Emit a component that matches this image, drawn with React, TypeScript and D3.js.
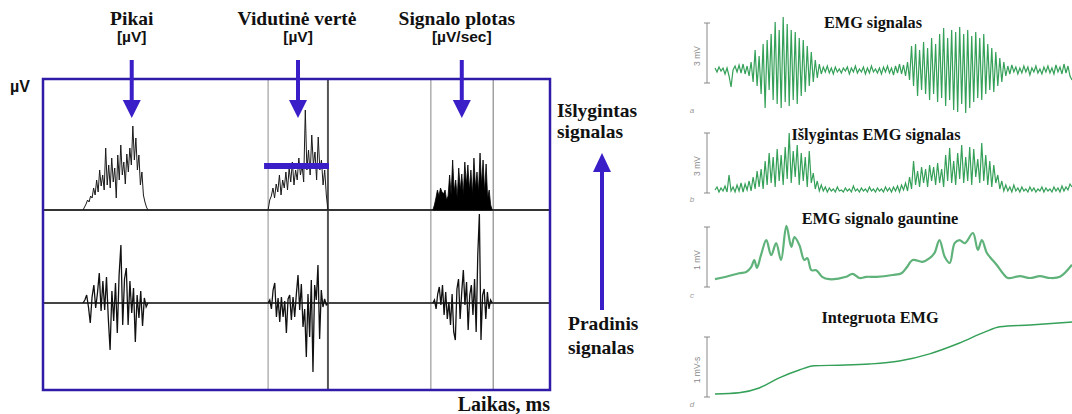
import React from 'react';
import * as d3 from 'd3';

// ---------- Left figure: rectified vs raw EMG bursts (time in ms, amplitude in µV) ----------
const burstWindows: [number, number][] = [[79, 207], [444, 562], [769, 886]];
const markerTimes = [444, 562, 765, 888];
const markerShade = ['#a0a0a0', '#555555', '#9a9a9a', '#8a8a8a'];

const rectBurst1 = [0, 3, 6, 10, 8, 14, 12, 22, 15, 30, 18, 40, 24, 35, 20, 62, 25, 45, 22, 52, 28, 42, 12, 55, 30, 65, 35, 48, 26, 56, 38, 62, 45, 84, 50, 72, 40, 55, 25, 38, 15, 8, 3, 0];
const rectBurst2 = [0, 10, 14, 22, 12, 26, 18, 35, 15, 30, 22, 38, 20, 42, 28, 48, 25, 40, 30, 52, 35, 45, 28, 100, 40, 60, 35, 75, 45, 58, 30, 73, 40, 50, 25, 40, 15, 0];
const rectBurst3 = [0, 5, 12, 20, 14, 22, 18, 16, 20, 10, 14, 35, 15, 50, 18, 30, 12, 42, 20, 36, 15, 48, 25, 45, 20, 40, 15, 52, 22, 38, 18, 57, 25, 50, 18, 46, 12, 20, 5, 0];

const rawBurst1 = [0, 3, 8, -4, -20, 6, 18, -5, 10, 30, -8, 22, -7, 26, -15, -47, 12, -18, 20, -30, 28, 58, -22, 24, 35, -22, 22, -10, 15, -39, 8, -15, 12, -23, 5, -4, 0];
const rawBurst2 = [0, 3, -6, 13, 20, -14, 5, -19, 6, -14, 2, -30, 4, 8, -17, 6, -14, 9, 28, -7, 19, -24, -6, -54, 9, -34, 23, -69, 18, 3, 38, -36, 13, -4, 4, -2, 0];
const rawBurst3 = [0, 3, -6, 9, 16, -2, 18, -12, 11, -16, 1, -22, 9, -29, -37, 14, 24, -16, 11, 33, -2, 21, -27, 8, 18, -12, 24, -29, 48, 89, -37, 8, 14, -16, 11, -6, 3, 0];

const meanValue = 44;
const meanWindow: [number, number] = [436, 564];

const arrowLabels = ['Pikai', 'Vidutinė vertė', 'Signalo plotas'];
const arrowUnits = ['[µV]', '[µV]', '[µV/sec]'];
const arrowTimes = [175, 503, 826];

// ---------- Right figure: EMG processing stages (time in s) ----------
const emgQuiet1 = [0.1, -0.1, 0.15, -0.05, 0.1, -0.2, 0.1, -0.3, -0.85, 0.0, 0.2, -0.1, 0.25, -0.15, 0.3, -0.2, 0.2, -0.3, 0.4];
const emgBurst1 = [-0.6, 1.0, -0.8, 0.7, -1.2, 1.3, -1.9, 1.5, -1.0, 1.8, -1.5, 2.4, -1.7, 2.0, -1.9, 2.65, -1.6, 2.3, -1.8, 2.0, -1.5, 1.9, -1.7, 1.6, -1.3, 1.5, -1.1, 1.2, -0.8, 0.9, -0.6, 0.5, -0.4, 0.3];
const emgQuiet2 = [-0.2, 0.15, -0.1, 0.2, -0.15, 0.1, -0.2, 0.15, -0.1, 0.05, -0.15, 0.1, -0.05, 0.15, -0.2, 0.1, -0.1, 0.2, -0.15, 0.05, -0.1, 0.15, -0.2, 0.1, -0.15, 0.2, -0.1, 0.05, -0.15, 0.1, -0.2, 0.15, -0.1, 0.2, -0.15, 0.1, -0.25, 0.2, -0.15, 0.3, -0.2, 0.25, -0.3, 0.4];
const emgBurst2 = [-0.5, 1.2, -0.8, 1.3, -1.3, 1.0, -1.0, 1.4, -1.2, 1.1, -1.5, 1.6, -1.2, 1.3, -1.6, 1.8, -1.4, 2.1, -1.8, 1.6, -1.5, 2.0, -2.0, 1.9, -2.1, 2.15, -1.7, 1.8, -2.15, 2.0, -1.9, 1.7, -1.6, 1.9, -1.4, 1.6, -1.5, 1.8, -1.2, 1.3, -1.0, 1.1, -1.1, 0.9, -0.8, 0.6, -0.6, 0.4, -0.3, 0.2];
const emgQuiet3 = [-0.2, 0.25, -0.1, 0.15, -0.2, 0.1, -0.15, 0.2, -0.1, 0.15, -0.25, 0.1, -0.1, 0.2, -0.15, 0.05, -0.2, 0.15, -0.1, 0.2, -0.15, 0.1, -0.2, 0.25, -0.1, 0.15, -0.2, 0.3, -0.15, 0.2, -0.3, -0.5];

const rectQuiet1 = [0.15, 0.3, 0.05, 0.25, 0.1, 0.35, 0.05, 0.9, 0.1, 0.3, 0.05, 0.4, 0.1, 0.5, 0.05, 0.45, 0.15, 0.6, 0.1];
const rectActive1 = [0.8, 0.2, 1.1, 0.3, 1.2, 0.2, 1.6, 0.4, 2.0, 0.5, 1.8, 0.3, 2.2, 0.6, 1.9, 0.4, 2.3, 0.7, 3.0, 0.5, 2.1, 0.8, 2.4, 0.4, 2.0, 0.6, 1.8, 0.3, 2.1, 0.5, 1.0, 0.2, 0.6, 0.1];
const rectQuiet2 = [0.4, 0.1, 0.3, 0.05, 0.25, 0.1, 0.2, 0.05, 0.3, 0.1, 0.15, 0.05, 0.25, 0.1, 0.2, 0.05, 0.35, 0.1, 0.2, 0.05, 0.25, 0.1, 0.2, 0.05, 0.3, 0.1, 0.2, 0.05, 0.25, 0.1, 0.2, 0.05, 0.3, 0.1, 0.25, 0.05, 0.3, 0.1, 0.35, 0.05, 0.4, 0.15, 0.5, 0.1];
const rectActive2 = [0.8, 0.2, 1.6, 0.4, 1.1, 0.3, 1.3, 0.5, 1.2, 0.3, 1.4, 0.6, 1.3, 0.4, 1.5, 0.5, 1.2, 0.3, 1.9, 0.6, 2.25, 0.5, 1.6, 0.4, 2.0, 0.7, 2.4, 0.5, 1.8, 0.6, 2.3, 0.4, 2.2, 0.8, 1.7, 0.5, 2.5, 0.6, 1.9, 0.4, 1.6, 0.3, 1.4, 0.5, 0.9, 0.2, 0.6, 0.1, 0.4, 0.1];
const rectQuiet3 = [0.3, 0.05, 0.4, 0.1, 0.25, 0.05, 0.3, 0.1, 0.2, 0.05, 0.3, 0.1, 0.25, 0.05, 0.2, 0.1, 0.3, 0.05, 0.25, 0.1, 0.2, 0.05, 0.3, 0.1, 0.25, 0.05, 0.35, 0.1, 0.3, 0.15, 0.45, 0.3];

const envTime = [0, 0.25, 0.54, 0.7, 0.81, 0.88, 0.94, 1.03, 1.15, 1.26, 1.37, 1.48, 1.6, 1.71, 1.78, 1.89, 2.0, 2.07, 2.16, 2.27, 2.4, 2.56, 2.94, 3.08, 3.24, 3.39, 3.62, 3.98, 4.18, 4.29, 4.43, 4.65, 4.81, 4.92, 5.03, 5.15, 5.26, 5.37, 5.48, 5.6, 5.78, 5.89, 5.98, 6.09, 6.16, 6.31, 6.45, 6.56, 6.83, 7.06, 7.28, 7.51, 7.73, 8.0];
const envValue = [0.13, 0.17, 0.23, 0.25, 0.33, 0.45, 0.32, 0.53, 0.78, 0.53, 0.73, 0.45, 1.02, 0.67, 0.83, 0.7, 0.45, 0.48, 0.28, 0.28, 0.17, 0.13, 0.17, 0.22, 0.15, 0.17, 0.17, 0.2, 0.23, 0.32, 0.45, 0.42, 0.48, 0.57, 0.78, 0.5, 0.4, 0.73, 0.78, 0.73, 0.9, 0.62, 0.78, 0.57, 0.5, 0.37, 0.23, 0.15, 0.18, 0.15, 0.18, 0.15, 0.17, 0.37];

const intTime = [0, 0.54, 0.99, 1.44, 1.89, 2.22, 2.79, 3.46, 4.13, 4.81, 5.48, 6.04, 6.38, 7.06, 8.0];
const intValue = [0.05, 0.07, 0.15, 0.32, 0.45, 0.52, 0.53, 0.55, 0.6, 0.72, 0.9, 1.08, 1.17, 1.2, 1.25];

const panelTitles = ['EMG signalas', 'Išlygintas EMG signalas', 'EMG signalo gauntine', 'Integruota EMG'];
const scaleLabels = ['3 mV', '3 mV', '1 mV', '1 mV-s'];
const panelLetters = ['a', 'b', 'c', 'd'];

const FRAME = '#2e1ba8';
const ARROW = '#3a1ec8';
const GREEN = '#34a058';
const SERIF = '"Liberation Serif", "Times New Roman", serif';
const SANS = '"Liberation Sans", Arial, sans-serif';

export default function App() {
  // left figure scales
  const xL = d3.scaleLinear().domain([0, 1000]).range([43, 550]);
  const yRect = d3.scaleLinear().domain([0, 100]).range([210, 110]);
  const yRaw = d3.scaleLinear().domain([-100, 100]).range([403, 203]);

  const burstX = (win: [number, number], n: number) => (i: number) => xL(win[0] + ((win[1] - win[0]) * i) / (n - 1));
  const burstPath = (vals: number[], win: [number, number], y: d3.ScaleLinear<number, number>) => {
    const bx = burstX(win, vals.length);
    return d3.line<number>().x((_, i) => bx(i)).y((v) => y(v))(vals) || '';
  };
  const burstArea = (vals: number[], win: [number, number], y: d3.ScaleLinear<number, number>) => {
    const bx = burstX(win, vals.length);
    return d3.area<number>().x((_, i) => bx(i)).y0(y(0)).y1((v) => y(v))(vals) || '';
  };

  // right figure scales
  const xR = d3.scaleLinear().domain([0, 8]).range([715, 1072]);
  const panels = [
    d3.scaleLinear().domain([-0.65, 2.35]).range([83, 23]),
    d3.scaleLinear().domain([0, 3]).range([193, 133]),
    d3.scaleLinear().domain([0, 1]).range([287, 227]),
    d3.scaleLinear().domain([0, 1]).range([397, 337]),
  ];
  const rawSeries = [...emgQuiet1, ...emgBurst1, ...emgQuiet2, ...emgBurst2, ...emgQuiet3];
  const rectSeries = [...rectQuiet1, ...rectActive1, ...rectQuiet2, ...rectActive2, ...rectQuiet3];
  const dt = 8 / (rawSeries.length - 1);
  const sampled = (vals: number[], y: d3.ScaleLinear<number, number>) =>
    d3.line<number>().x((_, i) => xR(i * dt)).y((v) => y(v))(vals) || '';
  const pairs = (ts: number[], vs: number[]) => ts.map((t, i) => [t, vs[i]] as [number, number]);
  const envPath = d3.line<[number, number]>().x((d) => xR(d[0])).y((d) => panels[2](d[1])).curve(d3.curveCatmullRom.alpha(0.5))(pairs(envTime, envValue)) || '';
  const intPath = d3.line<[number, number]>().x((d) => xR(d[0])).y((d) => panels[3](d[1])).curve(d3.curveMonotoneX)(pairs(intTime, intValue)) || '';

  const titleY = [28, 140, 224, 323];
  const titleX = [873, 876, 880, 880];
  const letterY = [113, 202, 298, 407];

  const arrowDown = (x: number, key: number) => (
    <g key={key}>
      <line x1={x} x2={x} y1={60} y2={102} stroke={ARROW} strokeWidth={4} />
      <path d={`M${x - 9},100 L${x + 9},100 L${x},118 Z`} fill={ARROW} />
    </g>
  );

  return (
    <svg width={1072} height={414} style={{ position: 'absolute', left: 0, top: 0, background: '#fff' }}>
      <rect x={0} y={0} width={1072} height={414} fill="#fff" />

      {/* ---------- left figure ---------- */}
      {markerTimes.map((t, i) => (
        <line key={i} x1={xL(t)} x2={xL(t)} y1={79} y2={390} stroke={markerShade[i]} strokeWidth={i === 1 ? 2 : 1.2} />
      ))}
      <line x1={xL(0)} x2={xL(1000)} y1={yRect(0)} y2={yRect(0)} stroke="#333" strokeWidth={2} />
      <line x1={xL(0)} x2={xL(1000)} y1={yRaw(0)} y2={yRaw(0)} stroke="#444" strokeWidth={2} />

      <path d={burstPath(rectBurst1, burstWindows[0], yRect)} fill="none" stroke="#1a1a1a" strokeWidth={1} />
      <path d={burstPath(rectBurst2, burstWindows[1], yRect)} fill="none" stroke="#1a1a1a" strokeWidth={1} />
      <path d={burstArea(rectBurst3, burstWindows[2], yRect)} fill="#000" stroke="#000" strokeWidth={0.8} />

      <path d={burstPath(rawBurst1, burstWindows[0], yRaw)} fill="none" stroke="#111" strokeWidth={1.3} />
      <path d={burstPath(rawBurst2, burstWindows[1], yRaw)} fill="none" stroke="#111" strokeWidth={1.3} />
      <path d={burstPath(rawBurst3, burstWindows[2], yRaw)} fill="none" stroke="#111" strokeWidth={1.3} />

      <line x1={xL(meanWindow[0])} x2={xL(meanWindow[1])} y1={yRect(meanValue)} y2={yRect(meanValue)} stroke={ARROW} strokeWidth={6} />

      <rect x={xL(0)} y={79} width={xL(1000) - xL(0)} height={311} fill="none" stroke={FRAME} strokeWidth={2.5} />

      {arrowTimes.map((t, i) => arrowDown(xL(t), i))}
      {arrowLabels.map((s, i) => (
        <text key={s} x={xL(arrowTimes[i]) + (i === 0 ? 0 : i === 1 ? -1 : -5)} y={25} textAnchor="middle" fontFamily={SERIF} fontWeight="bold" fontSize={19.5} fill="#111">{s}</text>
      ))}
      {arrowUnits.map((s, i) => (
        <text key={i} x={xL(arrowTimes[i])} y={42} textAnchor="middle" fontFamily={SANS} fontWeight="bold" fontSize={15.5} fill="#111">{s}</text>
      ))}

      <text x={10} y={92} fontFamily={SANS} fontWeight="bold" fontSize={16} fill="#111">µV</text>

      <text x={557} y={117} fontFamily={SERIF} fontWeight="bold" fontSize={19.5} fill="#111">Išlygintas</text>
      <text x={557} y={138} fontFamily={SERIF} fontWeight="bold" fontSize={19.5} fill="#111">signalas</text>
      <line x1={602} x2={602} y1={170} y2={310} stroke={ARROW} strokeWidth={4} />
      <path d={`M593,172 L611,172 L602,153 Z`} fill={ARROW} />
      <text x={568} y={330} fontFamily={SERIF} fontWeight="bold" fontSize={19.5} fill="#111">Pradinis</text>
      <text x={568} y={354} fontFamily={SERIF} fontWeight="bold" fontSize={19.5} fill="#111">signalas</text>
      <text x={550} y={411} textAnchor="end" fontFamily={SERIF} fontWeight="bold" fontSize={20} fill="#111">Laikas, ms</text>

      {/* ---------- right figure ---------- */}
      {panels.map((y, i) => {
        const [lo, hi] = y.domain();
        const midY = (y(lo) + y(hi)) / 2;
        return (
          <g key={i}>
            <line x1={707} x2={707} y1={y(hi)} y2={y(lo)} stroke="#888" strokeWidth={1} />
            <line x1={704} x2={710} y1={y(hi)} y2={y(hi)} stroke="#888" strokeWidth={1} />
            <line x1={704} x2={710} y1={y(lo)} y2={y(lo)} stroke="#888" strokeWidth={1} />
            <text transform={`translate(700,${midY + 3}) rotate(-90)`} textAnchor="middle" fontFamily={SANS} fontSize={8.5} fill="#888">{scaleLabels[i]}</text>
            <text x={692} y={letterY[i]} textAnchor="middle" fontFamily={SANS} fontStyle="italic" fontSize={8} fill="#999">{panelLetters[i]}</text>
            <text x={titleX[i]} y={titleY[i]} textAnchor="middle" fontFamily={SERIF} fontWeight="bold" fontSize={16.3} fill="#111">{panelTitles[i]}</text>
          </g>
        );
      })}
      <path d={sampled(rawSeries, panels[0].copy().domain([-0.65, 2.35]))} fill="none" stroke={GREEN} strokeWidth={1.2} />
      <path d={sampled(rectSeries, panels[1])} fill="none" stroke={GREEN} strokeWidth={1.2} />
      <path d={envPath} fill="none" stroke="#5fb27a" strokeWidth={2.2} />
      <path d={intPath} fill="none" stroke={GREEN} strokeWidth={1.4} />
    </svg>
  );
}
